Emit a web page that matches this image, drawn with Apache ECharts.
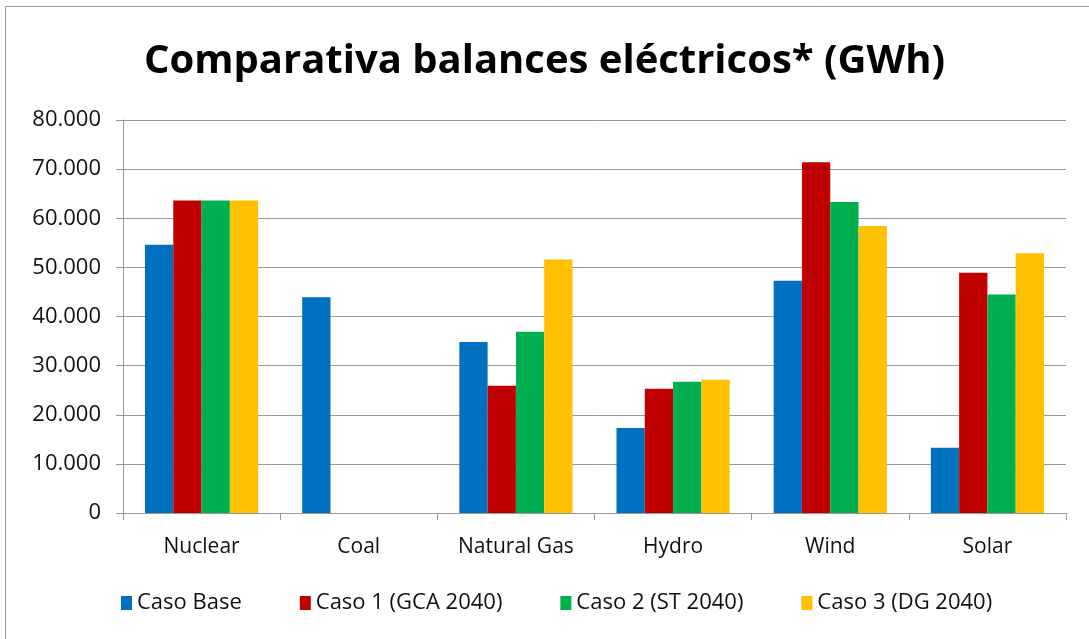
<!DOCTYPE html>
<html>
<head>
<meta charset="utf-8">
<script src="https://cdn.jsdelivr.net/npm/echarts@6/dist/echarts.min.js"></script>
<style>
  html, body { margin: 0; padding: 0; background: #fff; }
  #main { width: 1089px; height: 639px; }
</style>
</head>
<body>
<div id="main"></div>
<script>
// datos (GWh)
var categorias = ['Nuclear', 'Coal', 'Natural Gas', 'Hydro', 'Wind', 'Solar'];
var casoBase = [54600, 43900, 34800, 17300, 47300, 13300];
var caso1 = [63600, 0, 25900, 25300, 71400, 48900];
var caso2 = [63600, 0, 36900, 26700, 63300, 44500];
var caso3 = [63600, 0, 51600, 27100, 58400, 52900];
var nombres = ['Caso Base', 'Caso 1 (GCA 2040)', 'Caso 2 (ST 2040)', 'Caso 3 (DG 2040)'];
var colores = ['#0070C0', '#C00000', '#00B050', '#FFC000'];

var myChart = echarts.init(document.getElementById('main'));

function serie(i, datos) {
    return {
        name: nombres[i],
        type: 'bar',
        data: datos,
        barGap: '0%',
        barCategoryGap: '28%',
        itemStyle: { color: colores[i] }
    };
}

myChart.setOption({
    animation: false,
    color: colores,
    title: {
        text: 'Comparativa balances eléctricos* (GWh)',
        left: 'center',
        top: 37,
        textStyle: {
            fontFamily: 'Open Sans',
            fontWeight: 'bold',
            fontSize: 40,
            color: '#000'
        }
    },
    graphic: [{
        type: 'rect',
        shape: { x: 5.5, y: 6.5, width: 1100, height: 700 },
        style: { fill: 'none', stroke: '#999', lineWidth: 1 }
    }],
    legend: {
        data: nombres,
        bottom: 20,
        left: 116,
        itemWidth: 11,
        itemHeight: 14,
        itemGap: 58,
        icon: 'rect',
        textStyle: { fontFamily: 'Open Sans', fontSize: 22, color: '#111' }
    },
    grid: { left: 123, right: 23, top: 120, bottom: 126 },
    xAxis: {
        type: 'category',
        data: categorias,
        axisLine: { lineStyle: { color: '#999' } },
        axisTick: { show: true, length: 7, lineStyle: { color: '#999' } },
        axisLabel: { interval: 0, fontFamily: 'Open Sans', fontSize: 21, color: '#111', margin: 24 }
    },
    yAxis: {
        type: 'value',
        min: 0,
        max: 80000,
        interval: 10000,
        axisLine: { show: true, lineStyle: { color: '#999' } },
        axisTick: { show: true, length: 7, lineStyle: { color: '#999' } },
        splitLine: { lineStyle: { color: '#999', width: 1 } },
        axisLabel: {
            fontFamily: 'Open Sans',
            fontSize: 22,
            color: '#111',
            margin: 22,
            formatter: function (v) {
                return v === 0 ? '0' : (v / 1000) + '.000';
            }
        }
    },
    series: [
        serie(0, casoBase),
        serie(1, caso1),
        serie(2, caso2),
        serie(3, caso3)
    ]
});
</script>
</body>
</html>
